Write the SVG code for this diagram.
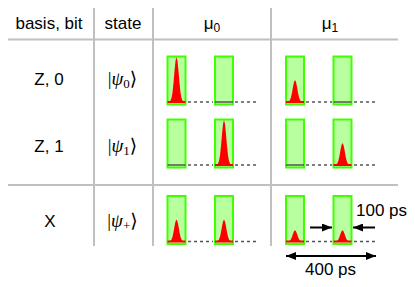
<svg xmlns="http://www.w3.org/2000/svg" xmlns:xlink="http://www.w3.org/1999/xlink" width="415" height="287" viewBox="0 0 415 287">
<style>
.t{font-family:"Liberation Sans",Arial,sans-serif;font-size:17px;fill:#000;text-anchor:middle}
.ket{font-family:"Liberation Serif","DejaVu Serif",serif;font-size:19px;fill:#000;text-anchor:middle}
.grid{stroke:#c0c0c0;stroke-width:2;fill:none}
.win{fill:#b8ffa0;stroke:#40ff00;stroke-width:2}
.dash{stroke:#555;stroke-width:1.5;stroke-dasharray:3 3;fill:none}
.empty{stroke:#555;stroke-width:1.5}
.base{stroke:#ff0000;stroke-width:2}
.pk{fill:#ff0000}
.arr{stroke:#000;stroke-width:2;fill:none}
</style>
<defs>
<path id="g" d="M-9,0 L-7,-0.4 L-6,-1.4 L-5,-4 L-4,-9.5 L-3,-19 L-2,-31 L-1,-41 L0,-45 L1,-41 L2,-31 L3,-19 L4,-9.5 L5,-4 L6,-1.4 L7,-0.4 L9,0 Z"/>
<marker id="ah" viewBox="0 0 10 8" refX="10" refY="4" markerWidth="5" markerHeight="4" orient="auto-start-reverse" markerUnits="strokeWidth">
<path d="M0,0 L10,4 L0,8 Z" fill="#000"/>
</marker>
</defs>
<g id="grid">
<line class="grid" x1="8" y1="39.5" x2="398" y2="39.5"/>
<line class="grid" x1="8" y1="185" x2="398" y2="185"/>
<line class="grid" x1="94" y1="8" x2="94" y2="246"/>
<line class="grid" x1="153" y1="8" x2="153" y2="246"/>
<line class="grid" x1="271" y1="8" x2="271" y2="246"/>
</g>
<g id="headers">
<text class="t" x="49" y="29">basis, bit</text>
<text class="t" x="123" y="29">state</text>
<text class="t" x="212" y="29">μ<tspan font-size="12" dy="3">0</tspan></text>
<text class="t" x="330" y="29">μ<tspan font-size="12" dy="3">1</tspan></text>
</g>
<g id="labels">
<text class="t" x="49" y="85">Z, 0</text>
<text class="t" x="49" y="152">Z, 1</text>
<text class="t" x="50" y="227">X</text>
<text class="ket" x="122.5" y="85">|<tspan font-style="italic">ψ</tspan><tspan font-size="13" dy="3">0</tspan><tspan dy="-3">⟩</tspan></text>
<text class="ket" x="122.5" y="152">|<tspan font-style="italic">ψ</tspan><tspan font-size="13" dy="3">1</tspan><tspan dy="-3">⟩</tspan></text>
<text class="ket" x="122.5" y="227">|<tspan font-style="italic">ψ</tspan><tspan font-size="13" dy="3">+</tspan><tspan dy="-3">⟩</tspan></text>
</g>
<!-- Row 1: Z,0 -->
<g id="r1-mu0">
<line class="dash" x1="188" y1="102" x2="213" y2="102"/>
<line class="dash" x1="235" y1="102" x2="258" y2="102"/>
<rect class="win" x="167.5" y="56.5" width="18" height="48"/>
<rect class="win" x="215" y="56.5" width="18" height="48"/>
<use xlink:href="#g" class="pk" transform="translate(176.5,102)"/>
<line class="base" x1="167.5" y1="102" x2="185.5" y2="102"/>
<line class="empty" x1="215" y1="102" x2="233" y2="102"/>
</g>
<g id="r1-mu1">
<line class="dash" x1="306" y1="102" x2="332" y2="102"/>
<line class="dash" x1="354" y1="102" x2="377" y2="102"/>
<rect class="win" x="286" y="56.5" width="18" height="48"/>
<rect class="win" x="333.5" y="56.5" width="18" height="48"/>
<use xlink:href="#g" class="pk" transform="translate(295,102) scale(1,0.49)"/>
<line class="base" x1="286" y1="102" x2="304" y2="102"/>
<line class="empty" x1="333.5" y1="102" x2="351.5" y2="102"/>
</g>
<!-- Row 2: Z,1 -->
<g id="r2-mu0">
<line class="dash" x1="188" y1="165" x2="213" y2="165"/>
<line class="dash" x1="235" y1="165" x2="258" y2="165"/>
<rect class="win" x="167.5" y="119.5" width="18" height="48"/>
<rect class="win" x="215" y="119.5" width="18" height="48"/>
<use xlink:href="#g" class="pk" transform="translate(224,165)"/>
<line class="empty" x1="167.5" y1="165" x2="185.5" y2="165"/>
<line class="base" x1="215" y1="165" x2="233" y2="165"/>
</g>
<g id="r2-mu1">
<line class="dash" x1="306" y1="165" x2="332" y2="165"/>
<line class="dash" x1="354" y1="165" x2="377" y2="165"/>
<rect class="win" x="286" y="119.5" width="18" height="48"/>
<rect class="win" x="333.5" y="119.5" width="18" height="48"/>
<use xlink:href="#g" class="pk" transform="translate(342.5,165) scale(1,0.49)"/>
<line class="empty" x1="286" y1="165" x2="304" y2="165"/>
<line class="base" x1="333.5" y1="165" x2="351.5" y2="165"/>
</g>
<!-- Row 3: X -->
<g id="r3-mu0">
<line class="dash" x1="188" y1="241.5" x2="213" y2="241.5"/>
<line class="dash" x1="235" y1="241.5" x2="258" y2="241.5"/>
<rect class="win" x="167.5" y="196" width="18" height="48"/>
<rect class="win" x="215" y="196" width="18" height="48"/>
<use xlink:href="#g" class="pk" transform="translate(176.5,241.5) scale(1,0.49)"/>
<use xlink:href="#g" class="pk" transform="translate(224,241.5) scale(1,0.49)"/>
<line class="base" x1="167.5" y1="241.5" x2="185.5" y2="241.5"/>
<line class="base" x1="215" y1="241.5" x2="233" y2="241.5"/>
</g>
<g id="r3-mu1">
<line class="dash" x1="306" y1="241.5" x2="332" y2="241.5"/>
<line class="dash" x1="354" y1="241.5" x2="377" y2="241.5"/>
<rect class="win" x="286" y="196" width="18" height="48"/>
<rect class="win" x="333.5" y="196" width="18" height="48"/>
<use xlink:href="#g" class="pk" transform="translate(295,241.5) scale(1,0.25)"/>
<use xlink:href="#g" class="pk" transform="translate(342.5,241.5) scale(1,0.25)"/>
<line class="base" x1="286" y1="241.5" x2="304" y2="241.5"/>
<line class="base" x1="333.5" y1="241.5" x2="351.5" y2="241.5"/>
</g>
<g id="connectors">
<line class="arr" x1="310" y1="227.5" x2="332" y2="227.5" marker-end="url(#ah)"/>
<line class="arr" x1="375" y1="227.5" x2="353" y2="227.5" marker-end="url(#ah)"/>
<line class="arr" x1="286" y1="256" x2="376" y2="256" marker-start="url(#ah)" marker-end="url(#ah)"/>
</g>
<g id="dims">
<text class="t" x="381.5" y="216">100 ps</text>
<text class="t" x="330.5" y="275">400 ps</text>
</g>
</svg>
